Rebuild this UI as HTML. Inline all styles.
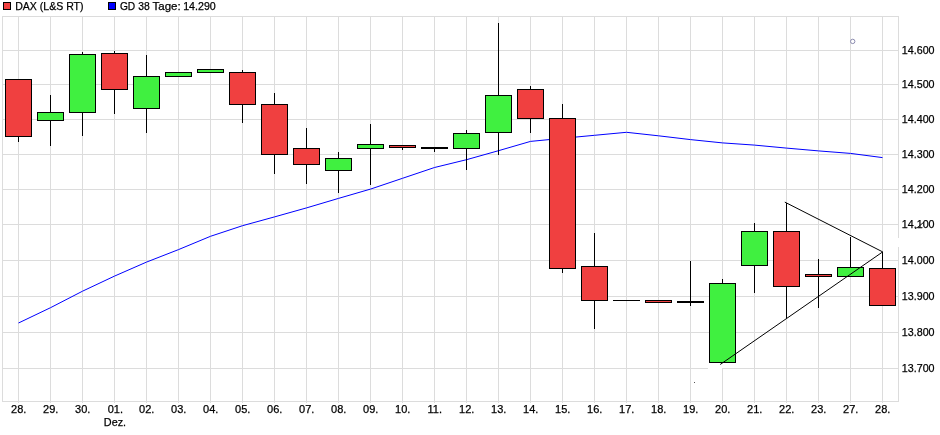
<!DOCTYPE html>
<html><head><meta charset="utf-8"><title>DAX Chart</title>
<style>html,body{margin:0;padding:0;background:#fff}body{width:940px;height:435px;overflow:hidden}</style>
</head><body>
<svg width="940" height="435" viewBox="0 0 940 435" style="display:block">
<rect x="0" y="0" width="940" height="435" fill="#fff"/>
<g stroke="#dcdcdc" stroke-width="1" fill="none" shape-rendering="crispEdges">
<line x1="2.5" y1="50.5" x2="898.5" y2="50.5"/>
<line x1="2.5" y1="84.5" x2="898.5" y2="84.5"/>
<line x1="2.5" y1="119.5" x2="898.5" y2="119.5"/>
<line x1="2.5" y1="154.5" x2="898.5" y2="154.5"/>
<line x1="2.5" y1="189.5" x2="898.5" y2="189.5"/>
<line x1="2.5" y1="224.5" x2="898.5" y2="224.5"/>
<line x1="2.5" y1="260.5" x2="898.5" y2="260.5"/>
<line x1="2.5" y1="296.5" x2="898.5" y2="296.5"/>
<line x1="2.5" y1="332.5" x2="898.5" y2="332.5"/>
<line x1="2.5" y1="368.5" x2="898.5" y2="368.5"/>
<line x1="18.5" y1="16.5" x2="18.5" y2="402.5"/>
<line x1="50.5" y1="16.5" x2="50.5" y2="402.5"/>
<line x1="82.5" y1="16.5" x2="82.5" y2="402.5"/>
<line x1="114.5" y1="16.5" x2="114.5" y2="402.5"/>
<line x1="146.5" y1="16.5" x2="146.5" y2="402.5"/>
<line x1="178.5" y1="16.5" x2="178.5" y2="402.5"/>
<line x1="210.5" y1="16.5" x2="210.5" y2="402.5"/>
<line x1="242.5" y1="16.5" x2="242.5" y2="402.5"/>
<line x1="274.5" y1="16.5" x2="274.5" y2="402.5"/>
<line x1="306.5" y1="16.5" x2="306.5" y2="402.5"/>
<line x1="338.5" y1="16.5" x2="338.5" y2="402.5"/>
<line x1="370.5" y1="16.5" x2="370.5" y2="402.5"/>
<line x1="402.5" y1="16.5" x2="402.5" y2="402.5"/>
<line x1="434.5" y1="16.5" x2="434.5" y2="402.5"/>
<line x1="466.5" y1="16.5" x2="466.5" y2="402.5"/>
<line x1="498.5" y1="16.5" x2="498.5" y2="402.5"/>
<line x1="530.5" y1="16.5" x2="530.5" y2="402.5"/>
<line x1="562.5" y1="16.5" x2="562.5" y2="402.5"/>
<line x1="594.5" y1="16.5" x2="594.5" y2="402.5"/>
<line x1="626.5" y1="16.5" x2="626.5" y2="402.5"/>
<line x1="658.5" y1="16.5" x2="658.5" y2="402.5"/>
<line x1="690.5" y1="16.5" x2="690.5" y2="402.5"/>
<line x1="722.5" y1="16.5" x2="722.5" y2="402.5"/>
<line x1="754.5" y1="16.5" x2="754.5" y2="402.5"/>
<line x1="786.5" y1="16.5" x2="786.5" y2="402.5"/>
<line x1="818.5" y1="16.5" x2="818.5" y2="402.5"/>
<line x1="850.5" y1="16.5" x2="850.5" y2="402.5"/>
<line x1="882.5" y1="16.5" x2="882.5" y2="402.5"/>
<rect x="2.5" y="16.5" width="896.0" height="385.0"/>
</g>
<rect x="708" y="363" width="15" height="5" fill="#fff"/>
<rect x="708" y="368" width="14" height="1" fill="#fff"/>
<rect x="898" y="238" width="1" height="9" fill="#fff"/>
<rect x="694" y="382" width="1" height="1" fill="#555"/>
<polyline points="18.5,323 50.5,307.7 82.5,291.2 114.5,276.1 146.5,262.1 178.5,249.6 210.5,236.3 242.5,225.7 274.5,216.9 306.5,207.9 338.5,198.4 370.5,189.1 402.5,178.3 434.5,167.5 466.5,159.7 498.5,150.7 530.5,141.4 562.5,138.3 594.5,135.3 626.5,132.3 658.5,135.8 690.5,139.6 722.5,142.9 754.5,145.1 786.5,148.1 818.5,150.9 850.5,153.4 882.5,157.6" fill="none" stroke="#0000ff" stroke-width="1" stroke-linejoin="round"/>
<g stroke="#000" stroke-width="1" shape-rendering="crispEdges">
<line x1="18.5" y1="136.5" x2="18.5" y2="142"/>
<rect x="5.5" y="79.5" width="26" height="57.0" fill="#f04040"/>
<line x1="50.5" y1="95" x2="50.5" y2="112.5"/>
<line x1="50.5" y1="120.5" x2="50.5" y2="146"/>
<rect x="37.5" y="112.5" width="26" height="8.0" fill="#40f040"/>
<line x1="82.5" y1="52" x2="82.5" y2="54.5"/>
<line x1="82.5" y1="112.5" x2="82.5" y2="136"/>
<rect x="69.5" y="54.5" width="26" height="58.0" fill="#40f040"/>
<line x1="114.5" y1="51" x2="114.5" y2="53.5"/>
<line x1="114.5" y1="89.5" x2="114.5" y2="114"/>
<rect x="101.5" y="53.5" width="26" height="36.0" fill="#f04040"/>
<line x1="146.5" y1="55" x2="146.5" y2="76.5"/>
<line x1="146.5" y1="108.5" x2="146.5" y2="133"/>
<rect x="133.5" y="76.5" width="26" height="32.0" fill="#40f040"/>
<rect x="165.5" y="72.5" width="26" height="4.0" fill="#40f040"/>
<rect x="197.5" y="69.5" width="26" height="3.0" fill="#40f040"/>
<line x1="242.5" y1="70" x2="242.5" y2="72.5"/>
<line x1="242.5" y1="104.5" x2="242.5" y2="123"/>
<rect x="229.5" y="72.5" width="26" height="32.0" fill="#f04040"/>
<line x1="274.5" y1="93" x2="274.5" y2="104.5"/>
<line x1="274.5" y1="154.5" x2="274.5" y2="174"/>
<rect x="261.5" y="104.5" width="26" height="50.0" fill="#f04040"/>
<line x1="306.5" y1="128" x2="306.5" y2="148.5"/>
<line x1="306.5" y1="164.5" x2="306.5" y2="184"/>
<rect x="293.5" y="148.5" width="26" height="16.0" fill="#f04040"/>
<line x1="338.5" y1="152" x2="338.5" y2="158.5"/>
<line x1="338.5" y1="170.5" x2="338.5" y2="193"/>
<rect x="325.5" y="158.5" width="26" height="12.0" fill="#40f040"/>
<line x1="370.5" y1="124" x2="370.5" y2="144.5"/>
<line x1="370.5" y1="148.5" x2="370.5" y2="185"/>
<rect x="357.5" y="144.5" width="26" height="4.0" fill="#40f040"/>
<line x1="402.5" y1="147.5" x2="402.5" y2="150"/>
<rect x="389.5" y="145.5" width="26" height="2.0" fill="#f04040"/>
<line x1="434.5" y1="148.5" x2="434.5" y2="152"/>
<rect x="421.5" y="147.5" width="26" height="1.0" fill="#000"/>
<line x1="466.5" y1="130" x2="466.5" y2="133.5"/>
<line x1="466.5" y1="148.5" x2="466.5" y2="169.5"/>
<rect x="453.5" y="133.5" width="26" height="15.0" fill="#40f040"/>
<line x1="498.5" y1="23" x2="498.5" y2="95.5"/>
<line x1="498.5" y1="132.5" x2="498.5" y2="154.5"/>
<rect x="485.5" y="95.5" width="26" height="37.0" fill="#40f040"/>
<line x1="530.5" y1="86" x2="530.5" y2="89.5"/>
<line x1="530.5" y1="118.5" x2="530.5" y2="132.5"/>
<rect x="517.5" y="89.5" width="26" height="29.0" fill="#f04040"/>
<line x1="562.5" y1="104" x2="562.5" y2="118.5"/>
<line x1="562.5" y1="268.5" x2="562.5" y2="273"/>
<rect x="549.5" y="118.5" width="26" height="150.0" fill="#f04040"/>
<line x1="594.5" y1="233" x2="594.5" y2="266.5"/>
<line x1="594.5" y1="300.5" x2="594.5" y2="329"/>
<rect x="581.5" y="266.5" width="26" height="34.0" fill="#f04040"/>
<line x1="613.0" y1="300.5" x2="640.0" y2="300.5"/>
<rect x="645.5" y="300.5" width="26" height="2.0" fill="#f04040"/>
<line x1="690.5" y1="261" x2="690.5" y2="301.5"/>
<line x1="690.5" y1="302.5" x2="690.5" y2="305.5"/>
<rect x="677.5" y="301.5" width="26" height="1.0" fill="#000"/>
<line x1="722.5" y1="279" x2="722.5" y2="283.5"/>
<rect x="709.5" y="283.5" width="26" height="79.0" fill="#40f040"/>
<line x1="754.5" y1="223" x2="754.5" y2="231.5"/>
<line x1="754.5" y1="265.5" x2="754.5" y2="292.5"/>
<rect x="741.5" y="231.5" width="26" height="34.0" fill="#40f040"/>
<line x1="786.5" y1="202.5" x2="786.5" y2="231.5"/>
<line x1="786.5" y1="286.5" x2="786.5" y2="318"/>
<rect x="773.5" y="231.5" width="26" height="55.0" fill="#f04040"/>
<line x1="818.5" y1="259" x2="818.5" y2="274.5"/>
<line x1="818.5" y1="276.5" x2="818.5" y2="307.5"/>
<rect x="805.5" y="274.5" width="26" height="2.0" fill="#f04040"/>
<line x1="850.5" y1="236.5" x2="850.5" y2="267.5"/>
<rect x="837.5" y="267.5" width="26" height="9.0" fill="#40f040"/>
<line x1="882.5" y1="252" x2="882.5" y2="268.5"/>
<rect x="869.5" y="268.5" width="26" height="37.0" fill="#f04040"/>
</g>
<g stroke="#000" stroke-width="1" fill="none">
<line x1="720.2" y1="364.5" x2="882.7" y2="251.9"/>
<line x1="784.8" y1="202.1" x2="882.7" y2="251.9"/>
</g>
<polyline points="915,228.6 917.8,227.2 924,222" fill="none" stroke="#000" stroke-width="0.9"/>
<circle cx="852.7" cy="41.4" r="2.2" fill="none" stroke="#8c8cb0" stroke-width="1"/>
<g font-family="'Liberation Sans', Arial, sans-serif" font-size="11px" fill="#000" stroke="#000" stroke-width="0.25">
<text x="901.8" y="53.9" textLength="32.8" lengthAdjust="spacingAndGlyphs">14.600</text>
<text x="901.8" y="87.9" textLength="32.8" lengthAdjust="spacingAndGlyphs">14.500</text>
<text x="901.8" y="122.9" textLength="32.8" lengthAdjust="spacingAndGlyphs">14.400</text>
<text x="901.8" y="157.9" textLength="32.8" lengthAdjust="spacingAndGlyphs">14.300</text>
<text x="901.8" y="192.9" textLength="32.8" lengthAdjust="spacingAndGlyphs">14.200</text>
<text x="901.8" y="227.9" textLength="32.8" lengthAdjust="spacingAndGlyphs">14.100</text>
<text x="901.8" y="263.9" textLength="32.8" lengthAdjust="spacingAndGlyphs">14.000</text>
<text x="901.8" y="299.9" textLength="32.8" lengthAdjust="spacingAndGlyphs">13.900</text>
<text x="901.8" y="335.9" textLength="32.8" lengthAdjust="spacingAndGlyphs">13.800</text>
<text x="901.8" y="371.9" textLength="32.8" lengthAdjust="spacingAndGlyphs">13.700</text>
<text x="18.75" y="413" text-anchor="middle">28.</text>
<text x="50.75" y="413" text-anchor="middle">29.</text>
<text x="82.75" y="413" text-anchor="middle">30.</text>
<text x="115.4" y="413" text-anchor="middle">01.</text>
<text x="146.75" y="413" text-anchor="middle">02.</text>
<text x="178.75" y="413" text-anchor="middle">03.</text>
<text x="210.75" y="413" text-anchor="middle">04.</text>
<text x="242.75" y="413" text-anchor="middle">05.</text>
<text x="274.75" y="413" text-anchor="middle">06.</text>
<text x="306.75" y="413" text-anchor="middle">07.</text>
<text x="338.75" y="413" text-anchor="middle">08.</text>
<text x="370.75" y="413" text-anchor="middle">09.</text>
<text x="402.75" y="413" text-anchor="middle">10.</text>
<text x="434.75" y="413" text-anchor="middle">11.</text>
<text x="466.75" y="413" text-anchor="middle">12.</text>
<text x="498.75" y="413" text-anchor="middle">13.</text>
<text x="530.75" y="413" text-anchor="middle">14.</text>
<text x="562.75" y="413" text-anchor="middle">15.</text>
<text x="594.75" y="413" text-anchor="middle">16.</text>
<text x="626.75" y="413" text-anchor="middle">17.</text>
<text x="658.75" y="413" text-anchor="middle">18.</text>
<text x="690.75" y="413" text-anchor="middle">19.</text>
<text x="722.75" y="413" text-anchor="middle">20.</text>
<text x="754.75" y="413" text-anchor="middle">21.</text>
<text x="786.75" y="413" text-anchor="middle">22.</text>
<text x="818.75" y="413" text-anchor="middle">23.</text>
<text x="850.75" y="413" text-anchor="middle">27.</text>
<text x="882.75" y="413" text-anchor="middle">28.</text>
<text x="115" y="425.5" text-anchor="middle" textLength="22.3" lengthAdjust="spacingAndGlyphs">Dez.</text>
<text x="15.2" y="10" textLength="68.3" lengthAdjust="spacingAndGlyphs">DAX (L&amp;S RT)</text>
<text y="10"><tspan x="119.9" textLength="15.3" lengthAdjust="spacingAndGlyphs">GD</tspan> <tspan x="138.2" textLength="11.5" lengthAdjust="spacingAndGlyphs">38</tspan> <tspan x="152.5" textLength="28.1" lengthAdjust="spacingAndGlyphs">Tage:</tspan> <tspan x="183.2" textLength="32.6" lengthAdjust="spacingAndGlyphs">14.290</tspan></text>
</g>
<rect x="3.5" y="2.5" width="7" height="7" fill="#f04040" stroke="#000" stroke-width="1" shape-rendering="crispEdges"/>
<rect x="108.5" y="2.5" width="7" height="7" fill="#0000ff" stroke="#000" stroke-width="1" shape-rendering="crispEdges"/>
</svg>
</body></html>
